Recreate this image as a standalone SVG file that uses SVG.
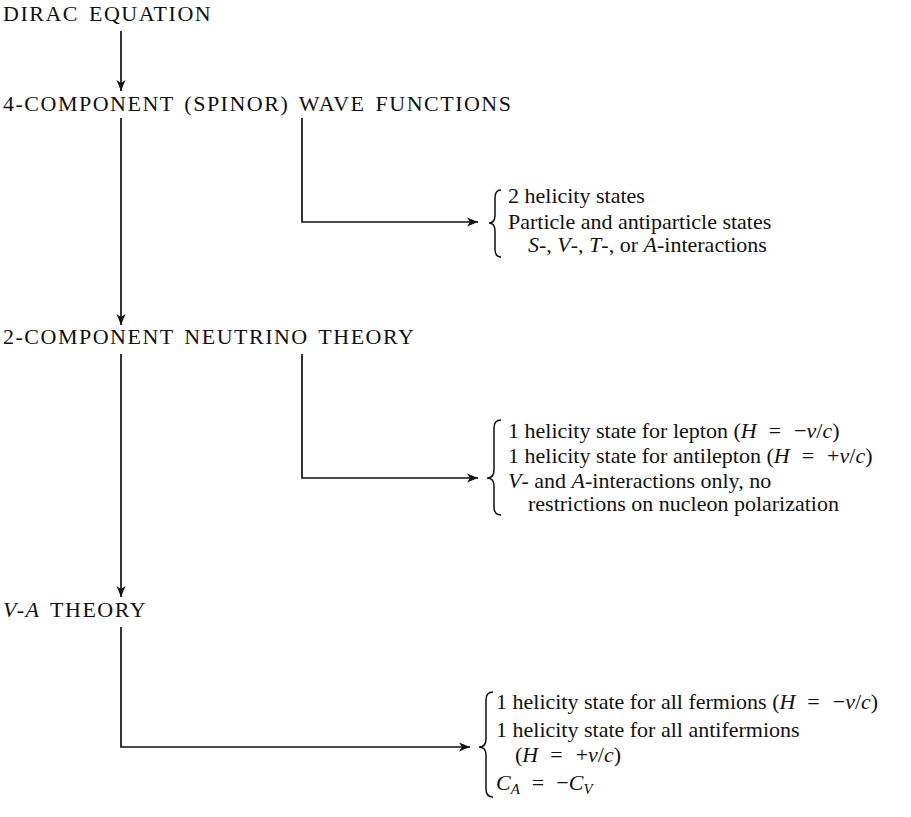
<svg xmlns="http://www.w3.org/2000/svg" width="911" height="817" viewBox="0 0 911 817">
<style>
.h{font-family:"Liberation Serif","Times New Roman",serif;font-size:22px;letter-spacing:1.5px;word-spacing:3px;fill:#111}
.t{font-family:"Liberation Serif","Times New Roman",serif;font-size:22px;fill:#111}
.i{font-style:italic}
.s{font-style:italic;font-size:15px}
.ln{fill:none;stroke:#111;stroke-width:1.7}
.br{fill:none;stroke:#111;stroke-width:1.5}
</style>
<defs>
<marker id="ah" markerWidth="12" markerHeight="10" refX="11" refY="5" orient="auto" markerUnits="userSpaceOnUse">
<path d="M0,0.5 L11,5 L0,9.5 L3,5 Z" fill="#111"/>
</marker>
</defs>
<rect width="911" height="817" fill="#fff"/>
<g id="connectors">
<path class="ln" d="M121,31 V91" marker-end="url(#ah)"/>
<path class="ln" d="M121,118 V325" marker-end="url(#ah)"/>
<path class="ln" d="M302,118 V222 H478" marker-end="url(#ah)"/>
<path class="ln" d="M121,354 V597" marker-end="url(#ah)"/>
<path class="ln" d="M302,354 V478 H478" marker-end="url(#ah)"/>
<path class="ln" d="M121,627 V747 H470" marker-end="url(#ah)"/>
</g>
<g id="dirac">
<text class="h" x="3" y="21">DIRAC EQUATION</text>
</g>
<g id="four-component">
<text class="h" x="3" y="111">4-COMPONENT (SPINOR) WAVE FUNCTIONS</text>
</g>
<g id="two-component">
<text class="h" x="3" y="344">2-COMPONENT NEUTRINO THEORY</text>
</g>
<g id="v-a">
<text class="h" x="3" y="617"><tspan class="i">V-A</tspan> THEORY</text>
</g>
<g id="notes-4comp">
<path class="br" d="M501,190 Q495,190 495,198 V215 Q495,223 489,223 Q495,223 495,231 V249 Q495,257 501,257"/>
<text class="t" x="508" y="203">2 helicity states</text>
<text class="t" x="508" y="229">Particle and antiparticle states</text>
<text class="t" x="528" y="252"><tspan class="i">S</tspan>-, <tspan class="i">V</tspan>-, <tspan class="i">T</tspan>-, or <tspan class="i">A</tspan>-interactions</text>
</g>
<g id="notes-2comp">
<path class="br" d="M501,420 Q494,420 494,428 V470 Q494,478 487,478 Q494,478 494,486 V507 Q494,515 501,515"/>
<text class="t" x="508" y="438">1 helicity state for lepton (<tspan class="i">H</tspan><tspan dx="12">=</tspan><tspan dx="13">−</tspan><tspan class="i">v</tspan>/<tspan class="i">c</tspan>)</text>
<text class="t" x="508" y="463">1 helicity state for antilepton (<tspan class="i">H</tspan><tspan dx="12">=</tspan><tspan dx="13">+</tspan><tspan class="i">v</tspan>/<tspan class="i">c</tspan>)</text>
<text class="t" x="508" y="488"><tspan class="i">V</tspan>- and <tspan class="i">A</tspan>-interactions only, no</text>
<text class="t" x="528" y="511">restrictions on nucleon polarization</text>
</g>
<g id="notes-va">
<path class="br" d="M493,692 Q486,692 486,700 V739 Q486,747 479,747 Q486,747 486,755 V789 Q486,797 493,797"/>
<text class="t" x="496" y="709">1 helicity state for all fermions (<tspan class="i">H</tspan><tspan dx="12">=</tspan><tspan dx="13">−</tspan><tspan class="i">v</tspan>/<tspan class="i">c</tspan>)</text>
<text class="t" x="496" y="737">1 helicity state for all antifermions</text>
<text class="t" x="515" y="762">(<tspan class="i">H</tspan><tspan dx="12">=</tspan><tspan dx="13">+</tspan><tspan class="i">v</tspan>/<tspan class="i">c</tspan>)</text>
<text class="t" x="496" y="790"><tspan class="i">C</tspan><tspan class="s" dy="4">A</tspan><tspan dy="-4" dx="12">=</tspan><tspan dx="12">−</tspan><tspan class="i">C</tspan><tspan class="s" dy="4">V</tspan></text>
</g>
</svg>
